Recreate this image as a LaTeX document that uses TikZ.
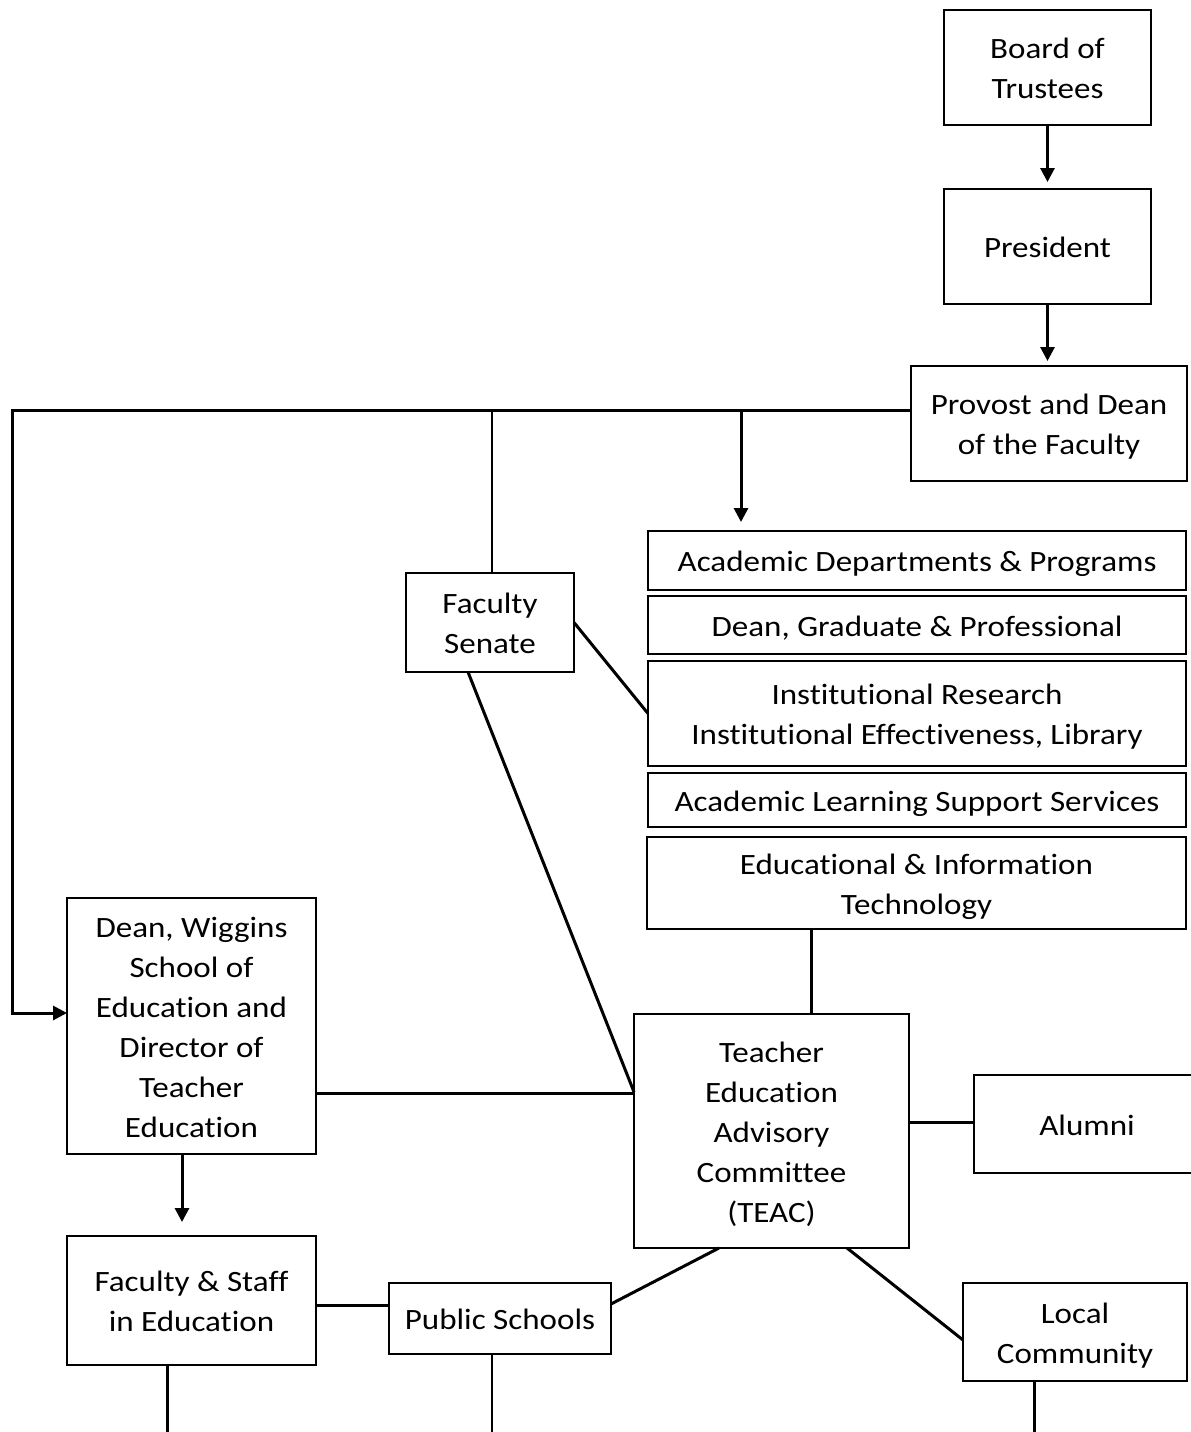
\documentclass[tikz,border=0pt]{standalone}
\usepackage{fontspec}
\setmainfont{Carlito}[FakeStretch=1.12, RawFeature={-liga;-clig;-calt;-dlig}]
\usetikzlibrary{arrows.meta}
\newcommand{\lbltext}[1]{\raisebox{-3pt}[\height][\depth]{\begin{tabular}{@{}c@{}}#1\end{tabular}}}
\tikzset{
  box/.style={draw, line width=2.8pt, inner sep=0pt, outer sep=0pt,
    font=\fontsize{29.5}{40}\selectfont},
  conn/.style={line width=3pt},
  thinconn/.style={line width=2.2pt},
  arr/.style={line width=3pt, -{Triangle[length=14pt,width=14pt]}},
}
\begin{document}
\begin{tikzpicture}[x=1pt,y=-1pt]
\useasboundingbox (0,0) rectangle (1191,1432);
\fill[white] (0,0) rectangle (1191,1432);
\clip (0,0) rectangle (1191,1432);

\node[box, minimum width=207pt, minimum height=115pt] (board) at (1047.5,67.5) {\lbltext{Board of\\Trustees}};
\node[box, minimum width=207pt, minimum height=115pt] (pres) at (1047.5,246.5) {\lbltext{President}};
\node[box, minimum width=276pt, minimum height=115pt] (prov) at (1049,423.5) {\lbltext{Provost and Dean\\of the Faculty}};
\node[box, minimum width=168pt, minimum height=99pt] (fs) at (490,622.5) {\lbltext{Faculty\\Senate}};
\node[box, minimum width=538pt, minimum height=59pt] (adp) at (917,560.5) {\lbltext{Academic Departments \& Programs}};
\node[box, minimum width=538pt, minimum height=58pt] (dgp) at (917,625) {\lbltext{Dean, Graduate \& Professional}};
\node[box, minimum width=538pt, minimum height=105pt] (ir) at (917,713.5) {\lbltext{Institutional Research\\Institutional Effectiveness, Library}};
\node[box, minimum width=538pt, minimum height=54pt] (alss) at (917,800) {\lbltext{Academic Learning Support Services}};
\node[box, minimum width=539pt, minimum height=92pt] (eit) at (916.5,883) {\lbltext{Educational \& Information\\Technology}};
\node[box, minimum width=249pt, minimum height=256pt] (dean) at (191.5,1026) {\lbltext{Dean, Wiggins\\School of\\Education and\\Director of\\Teacher\\Education}};
\node[box, minimum width=275pt, minimum height=234pt] (teac) at (771.5,1131) {\lbltext{Teacher\\Education\\Advisory\\Committee\\(TEAC)}};
\node[box, minimum width=226pt, minimum height=98pt] (alumni) at (1087,1124) {\lbltext{Alumni}};
\node[box, minimum width=224pt, minimum height=98pt] (lc) at (1075,1332) {\lbltext{Local\\Community}};
\node[box, minimum width=222pt, minimum height=71pt] (ps) at (500,1318.5) {\lbltext{Public Schools}};
\node[box, minimum width=249pt, minimum height=129pt] (fstaff) at (191.5,1300.5) {\lbltext{Faculty \& Staff\\in Education}};

\coordinate (c1) at (12,410);
\coordinate (c2) at (12,1013);
\coordinate (br) at (741,410);
\coordinate (bfs) at (167,1440);
\coordinate (bps) at (492,1440);
\coordinate (blc) at (1034,1440);

\draw[arr, shorten >=7pt] (board.south) -- (pres.north);
\draw[arr, shorten >=5pt] (pres.south) -- (pres.south |- prov.north);
\draw[arr] ([yshift=13.5pt]prov.west) -- (c1) -- (c2) -- ([yshift=13pt]dean.west);
\draw[thinconn] (fs.north -| 492,0) -- (c1 -| 492,0);
\draw[arr, shorten >=9pt] (br) -- (br |- adp.north);
\draw[conn] (fs.east) -- (ir.west);
\draw[conn] ([xshift=-22pt]fs.south) -- ([yshift=39pt]teac.west);
\draw[conn] ([yshift=-67pt]dean.east) -- ([yshift=-67pt]dean.east -| teac.west);
\draw[conn] ([xshift=-105.5pt]eit.south) -- ([xshift=-105.5pt]eit.south |- teac.north);
\draw[conn] ([yshift=9pt]teac.east) -- ([yshift=9pt]teac.east -| alumni.west);
\draw[conn] ([xshift=75.5pt]teac.south) -- ([yshift=-8pt]lc.west);
\draw[conn] ([xshift=-52.5pt]teac.south) -- ([yshift=14.5pt]ps.east);
\draw[arr, shorten >=14pt] ([xshift=-9.5pt]dean.south) -- ([xshift=-9.5pt]dean.south |- fstaff.north);
\draw[conn] ([yshift=-4.5pt]fstaff.east) -- ([yshift=-4.5pt]fstaff.east -| ps.west);
\draw[conn] ([xshift=-24.5pt]fstaff.south) -- (bfs);
\draw[thinconn] ([xshift=-8pt]ps.south) -- (bps);
\draw[conn] ([xshift=-41pt]lc.south) -- (blc);
\end{tikzpicture}
\end{document}
